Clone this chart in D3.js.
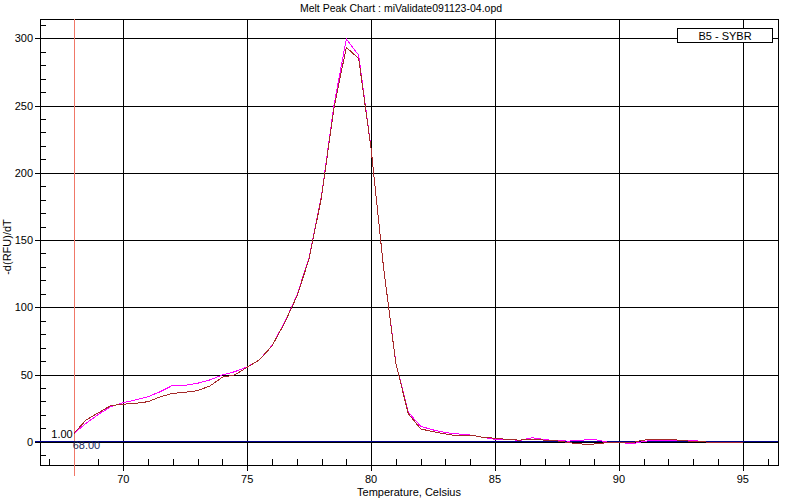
<!DOCTYPE html>
<html>
<head>
<meta charset="utf-8">
<script src="https://cdn.jsdelivr.net/npm/d3@7"></script>
<style>
  html, body { margin: 0; padding: 0; background: #fff; }
  svg { display: block; }
  text { font-family: "Liberation Sans", Arial, sans-serif; }
</style>
</head>
<body>
<svg id="chart" width="800" height="500"></svg>
<script>
// ---- data ----
const temperatures = [68, 68.5, 69, 69.5, 70, 70.5, 71, 71.5, 72, 72.5, 73, 73.5, 74, 74.5, 75, 75.5,
  76, 76.5, 77, 77.5, 78, 78.5, 79, 79.5, 80, 80.5, 81, 81.5, 82, 82.5, 83, 83.5, 84, 84.5, 85, 85.5,
  86, 86.5, 87, 87.5, 88, 88.5, 89, 89.5, 90, 90.5, 91, 91.5, 92, 92.5, 93, 93.5, 94, 94.5, 95];
const magentaSeries = [6, 13.7, 20.4, 26.1, 29.1, 31.1, 33.5, 37.3, 42, 42, 43.5, 46, 49.7, 52.1, 55.6, 61,
  71.5, 88.5, 108.5, 137, 183, 250, 299.5, 287.5, 218, 130, 58.5, 22, 11.5, 8.8, 6.8, 5.8, 5, 3.3, 1.8, 1.7,
  1.0, 3, 1.6, 0.7, 0.5, 1.2, 1.7, -0.2, -0.2, -1.7, 0.3, 1.2, 1.2, 1, 1, -0.2, -0.5, -0.5, -0.3];
const brownSeries = [6, 16.2, 21.6, 26.9, 27.9, 28.6, 29.8, 33.5, 36, 36.8, 38, 41.5, 48, 49.7, 55.4, 61,
  71.2, 88, 107.9, 136, 182, 248, 293.3, 285, 218, 130, 58, 21, 9.5, 7.5, 5.8, 4.3, 5, 3.3, 2.6, 1.7,
  1.2, 2, 1.2, 0.7, -0.7, -1.7, -1.7, -0.7, -0.2, -0.7, 1.2, 2, 2, 1, 0.2, -0.2, -0.3, -0.3, -0.2];
const xMajorTicks = [70, 75, 80, 85, 90, 95];
const xMinorTicks = [67, 68, 69, 71, 72, 73, 74, 76, 77, 78, 79, 81, 82, 83, 84, 86, 87, 88, 89, 91, 92, 93, 94, 96];
const yMajorTicks = [0, 50, 100, 150, 200, 250, 300];
const yMinorTicks = [-10, 10, 20, 30, 40, 60, 70, 80, 90, 110, 120, 130, 140, 160, 170, 180, 190,
  210, 220, 230, 240, 260, 270, 280, 290, 310];
const markerTemp = 68;
const markerLabels = ["1.00", "68.00"];
const legendLabel = "B5 - SYBR";
const titleText = "Melt Peak Chart : miValidate091123-04.opd";
const xTitle = "Temperature, Celsius";
const yTitle = "-d(RFU)/dT";

// ---- layout ----
const L = 40, R = 778, T = 19, B = 465;
const svg = d3.select("#chart");
const x = d3.scaleLinear().domain([66.64, 96.42]).range([L, R]);
const y = d3.scaleLinear().domain([-17.3, 314.4]).range([B, T]);
const px = v => Math.round(v) + 0.5;

// title
svg.append("text").attr("x", 401).attr("y", 12).attr("text-anchor", "middle")
  .attr("font-size", 10.5).attr("fill", "#000").text(titleText);

// grid: vertical major
const g = svg.append("g").attr("shape-rendering", "crispEdges");
g.selectAll(".vg").data(xMajorTicks).join("line")
  .attr("x1", d => px(x(d))).attr("x2", d => px(x(d)))
  .attr("y1", T).attr("y2", B + 6).attr("stroke", "#000");
g.selectAll(".hg").data(yMajorTicks.filter(d => d !== 0)).join("line")
  .attr("y1", d => px(y(d))).attr("y2", d => px(y(d)))
  .attr("x1", L - 5).attr("x2", R).attr("stroke", "#000");
// minor ticks
g.selectAll(".xm").data(xMinorTicks).join("line")
  .attr("x1", d => px(x(d))).attr("x2", d => px(x(d)))
  .attr("y1", B - 6).attr("y2", B).attr("stroke", "#000");
g.selectAll(".ym").data(yMinorTicks).join("line")
  .attr("y1", d => px(y(d))).attr("y2", d => px(y(d)))
  .attr("x1", L).attr("x2", L + 6).attr("stroke", "#000");

// frame
g.append("rect").attr("x", L + 0.5).attr("y", T + 0.5).attr("width", R - L).attr("height", B - T)
  .attr("fill", "none").attr("stroke", "#000");

// tick labels
svg.selectAll(".xl").data(xMajorTicks).join("text")
  .attr("x", d => x(d)).attr("y", B + 18).attr("text-anchor", "middle")
  .attr("font-size", 11).text(d => d);
svg.selectAll(".yl").data(yMajorTicks).join("text")
  .attr("x", L - 7).attr("y", d => y(d) + 4).attr("text-anchor", "end")
  .attr("font-size", 11).text(d => d);

// axis titles
svg.append("text").attr("x", 409).attr("y", 496).attr("text-anchor", "middle")
  .attr("font-size", 11).text(xTitle);
svg.append("text").attr("transform", `translate(11,247) rotate(-90)`).attr("text-anchor", "middle")
  .attr("font-size", 11).text(yTitle);

// marker vertical line
g.append("line").attr("x1", px(x(markerTemp))).attr("x2", px(x(markerTemp)))
  .attr("y1", T).attr("y2", B + 11).attr("stroke", "#f07868");

// zero line
const y0 = Math.round(y(0));
g.append("line").attr("x1", L - 5).attr("x2", R).attr("y1", y0).attr("y2", y0)
  .attr("stroke", "#000").attr("stroke-width", 2);
g.append("line").attr("x1", L - 5).attr("x2", R).attr("y1", y0 - 0.5).attr("y2", y0 - 0.5)
  .attr("stroke", "#00008c").attr("stroke-width", 1);

// series
const line = d3.line().x((d, i) => x(temperatures[i])).y(d => y(d));
svg.append("path").datum(magentaSeries).attr("d", line).attr("fill", "none")
  .attr("stroke", "#ff00ff").attr("stroke-width", 1).attr("shape-rendering", "crispEdges");
svg.append("path").datum(brownSeries).attr("d", line).attr("fill", "none")
  .attr("stroke", "#a52a2a").attr("stroke-width", 1).attr("shape-rendering", "crispEdges");

// marker labels
svg.append("text").attr("x", x(markerTemp) - 1).attr("y", y(0) - 4).attr("text-anchor", "end")
  .attr("font-size", 11).attr("fill", "#000").text(markerLabels[0]);
svg.append("text").attr("x", x(markerTemp) - 1).attr("y", y(0) + 7).attr("text-anchor", "start")
  .attr("font-size", 11).attr("fill", "#1a2a60").text(markerLabels[1]);

// legend
const lg = svg.append("g");
lg.append("rect").attr("x", 677.5).attr("y", 28.5).attr("width", 95).attr("height", 14)
  .attr("fill", "#fff").attr("stroke", "#000").attr("shape-rendering", "crispEdges");
lg.append("text").attr("x", 725).attr("y", 40).attr("text-anchor", "middle")
  .attr("font-size", 11).text(legendLabel);
</script>
</body>
</html>
